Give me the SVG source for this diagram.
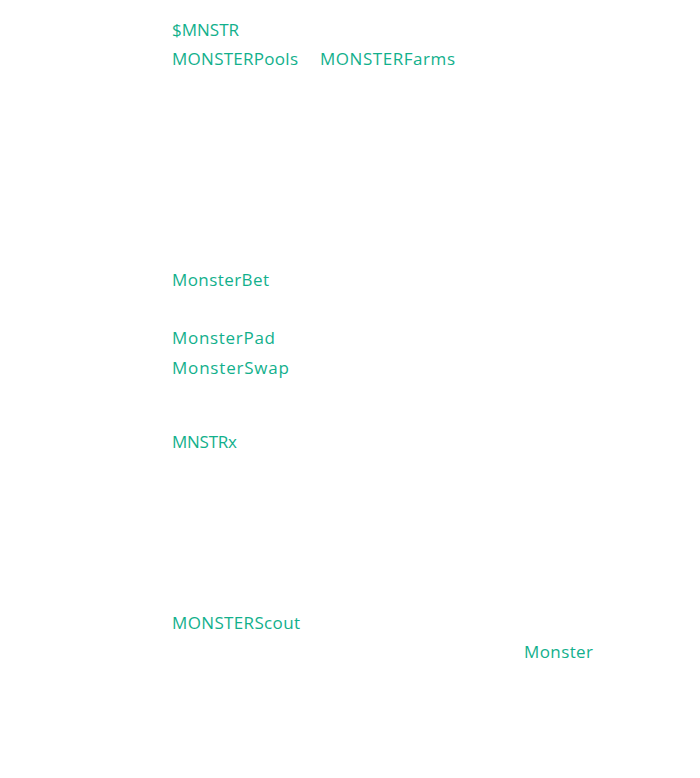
<svg xmlns="http://www.w3.org/2000/svg" width="700" height="778" viewBox="0 0 700 778">
<style>text{font-family:"Open Sans","Liberation Sans",sans-serif;font-size:17px;fill:#12b08c}</style>
<rect width="700" height="778" fill="#fff"/>
<g id="labels">
<text x="172" y="36">$MNSTR</text>
<text x="172" y="65" textLength="126">MONSTERPools</text>
<text x="320" y="65" textLength="135">MONSTERFarms</text>
<text x="172" y="286" textLength="97">MonsterBet</text>
<text x="172" y="344" textLength="103">MonsterPad</text>
<text x="172" y="374" textLength="117">MonsterSwap</text>
<text x="172" y="448" textLength="65">MNSTRx</text>
<text x="172" y="629" textLength="128">MONSTERScout</text>
<text x="524" y="658" textLength="69">Monster</text>
</g>
</svg>
